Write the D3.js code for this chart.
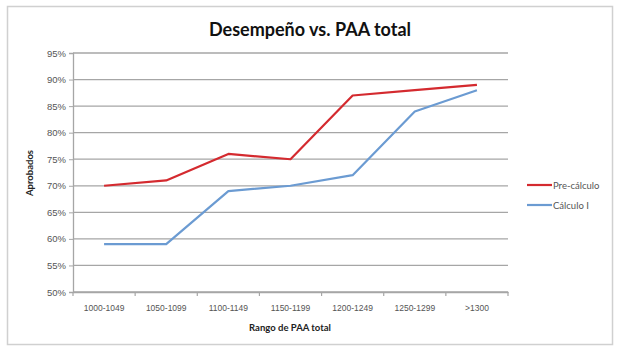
<!DOCTYPE html>
<html><head><meta charset="utf-8">
<script src="https://cdn.jsdelivr.net/npm/d3@7"></script>
<style>body{margin:0;background:#fff}svg{display:block;font-family:Lato,"Noto Sans",sans-serif}</style>
</head><body>
<svg id="c" width="625" height="356"></svg>
<script>
const categories = ["1000-1049","1050-1099","1100-1149","1150-1199","1200-1249","1250-1299",">1300"];
const preCalculo = [0.70,0.71,0.76,0.75,0.87,0.88,0.89];
const calculoI = [0.59,0.59,0.69,0.70,0.72,0.84,0.88];
const yTicks = [0.50,0.55,0.60,0.65,0.70,0.75,0.80,0.85,0.90,0.95];
const seriesNames = ["Pre-cálculo","Cálculo I"];
const colors = ["#d42a2f","#6b9bd2"];

const svg = d3.select("#c");
svg.append("rect").attr("x",7.5).attr("y",6.5).attr("width",605).attr("height",338)
  .attr("fill","#fff").attr("stroke","#d0d0d0").attr("stroke-width",1.5);

const L=73, R=508, T=53, B=292;
const x = d3.scaleBand().domain(categories).range([L,R]);
const y = d3.scaleLinear().domain([0.5,0.95]).range([B,T]);

// gridlines
svg.append("g").selectAll("line").data(yTicks).join("line")
  .attr("x1",L).attr("x2",R).attr("y1",d=>y(d)).attr("y2",d=>y(d))
  .attr("stroke","#a6a6a6").attr("stroke-width",1.3);

// y axis
const ya = svg.append("g").attr("transform",`translate(${L},0)`)
  .call(d3.axisLeft(y).tickValues(yTicks).tickFormat(d3.format(".0%")).tickSize(4));
ya.select(".domain").attr("stroke","#a6a6a6").attr("stroke-width",1.3);
ya.selectAll(".tick line").attr("stroke","#a6a6a6");
ya.selectAll("text").attr("fill","#555").attr("font-size",9.5).attr("x",-7);

// x axis
const xa = svg.append("g").attr("transform",`translate(0,${B})`)
  .call(d3.axisBottom(x).tickSize(0).tickPadding(13));
xa.select(".domain").attr("stroke","#a6a6a6").attr("stroke-width",1.3);
xa.selectAll("text").attr("fill","#555").attr("font-size",8.5);
svg.append("g").selectAll("line").data(d3.range(categories.length+1)).join("line")
  .attr("x1",i=>L+i*x.step()).attr("x2",i=>L+i*x.step()).attr("y1",B).attr("y2",B+4)
  .attr("stroke","#a6a6a6").attr("stroke-width",1.2);

// lines
const line = d3.line().x((d,i)=>x(categories[i])+x.bandwidth()/2).y(d=>y(d));
[preCalculo,calculoI].forEach((s,k)=>{
  svg.append("path").datum(s).attr("d",line).attr("fill","none")
    .attr("stroke",colors[k]).attr("stroke-width",2.2).attr("stroke-linejoin","round");
});

// title
svg.append("text").attr("x",310).attr("y",36).attr("text-anchor","middle")
  .attr("font-size",18).attr("font-weight","bold").attr("fill","#111").text("Desempeño vs. PAA total");
svg.append("text").attr("transform","translate(33,173) rotate(-90)").attr("text-anchor","middle")
  .attr("font-size",9.5).attr("font-weight","bold").attr("fill","#222").text("Aprobados");
svg.append("text").attr("x",290).attr("y",331).attr("text-anchor","middle")
  .attr("font-size",9.5).attr("font-weight","bold").attr("fill","#222").text("Rango de PAA total");

// legend
seriesNames.forEach((n,k)=>{
  const yy = 185 + k*20;
  svg.append("line").attr("x1",527).attr("x2",552).attr("y1",yy).attr("y2",yy)
    .attr("stroke",colors[k]).attr("stroke-width",2.2);
  svg.append("text").attr("x",553).attr("y",yy+3.5).attr("font-size",9.5).attr("fill","#555").text(n);
});
</script>
</body></html>
